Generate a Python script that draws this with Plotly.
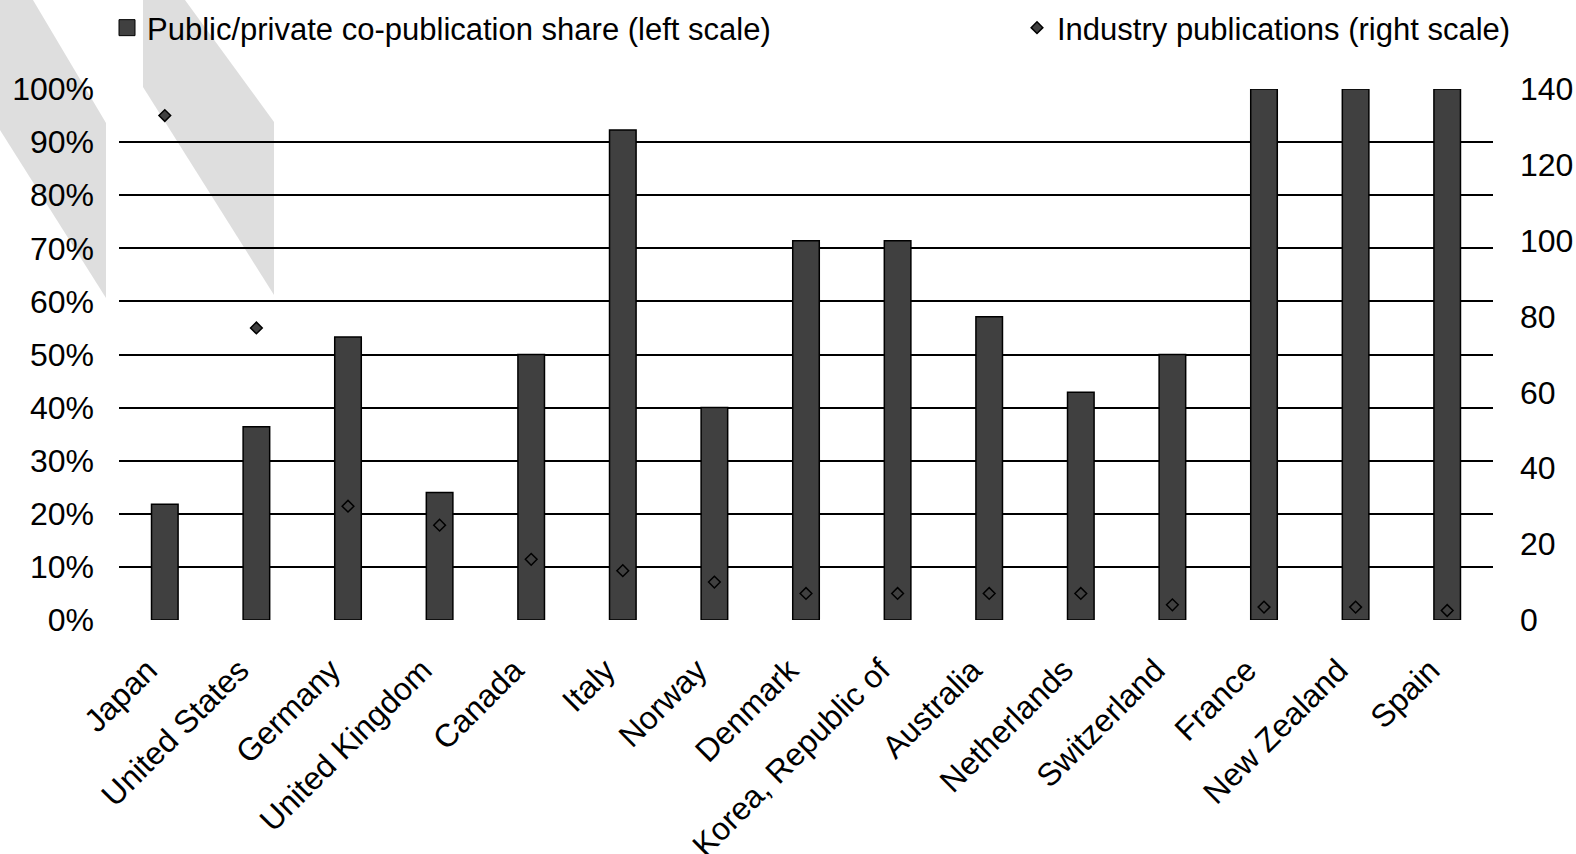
import plotly.graph_objects as go

countries = ["Japan", "United States", "Germany", "United Kingdom", "Canada", "Italy",
             "Norway", "Denmark", "Korea, Republic of", "Australia", "Netherlands",
             "Switzerland", "France", "New Zealand", "Spain"]
copub_share = [0.218, 0.364, 0.533, 0.24, 0.50, 0.923, 0.40, 0.714, 0.714, 0.571,
               0.429, 0.50, 1.0, 1.0, 1.0]
industry_pubs = [133, 77, 30, 25, 16, 13, 10, 7, 7, 7, 7, 4, 3.4, 3.4, 2.5]
left_ticks = [0, 0.1, 0.2, 0.3, 0.4, 0.5, 0.6, 0.7, 0.8, 0.9, 1.0]
left_labels = ["0%", "10%", "20%", "30%", "40%", "50%", "60%", "70%", "80%", "90%", "100%"]
right_ticks = [0, 20, 40, 60, 80, 100, 120, 140]

W, H = 1576, 854
L, R, T, B = 119, 1493, 89, 620
FONT = "Liberation Sans, Arial, sans-serif"
DARK = "#404040"


def px(x, y):
    return (x - L) / (R - L), (B - y) / (B - T)


def poly(points):
    pts = [px(x, y) for x, y in points]
    d = "M " + " L ".join(f"{a:.5f},{b:.5f}" for a, b in pts) + " Z"
    return dict(type="path", path=d, xref="paper", yref="paper",
                fillcolor="#dedede", line=dict(width=0), layer="below")


fig = go.Figure()
fig.add_trace(go.Bar(
    x=countries, y=copub_share, name="Public/private co-publication share (left scale)",
    marker=dict(color=DARK, line=dict(color="black", width=1.5)),
    width=0.29, showlegend=False, yaxis="y"))
fig.add_trace(go.Scatter(
    x=[None], y=[None], mode="markers", name="Public/private co-publication share (left scale)",
    marker=dict(symbol="square", size=17, color=DARK, line=dict(color="black", width=1)),
    legend="legend", yaxis="y"))
fig.add_trace(go.Scatter(
    x=countries, y=industry_pubs, mode="markers", name="Industry publications (right scale)",
    marker=dict(symbol="diamond", size=9, color=DARK, line=dict(color="black", width=1.5)),
    yaxis="y2", legend="legend2"))

lx1, ly = px(107, 28)
lx2, _ = px(1017, 28)

fig.update_layout(
    width=W, height=H,
    margin=dict(l=L, r=W - R, t=T, b=H - B, autoexpand=False),
    paper_bgcolor="white", plot_bgcolor="rgba(0,0,0,0)",
    font=dict(family=FONT, size=31, color="black"),
    xaxis=dict(type="category", tickangle=-45, showgrid=False, showline=False,
               ticks="", tickfont=dict(size=32), ticklabelstandoff=24,
               ticklabelshift=-17,
               range=[-0.5, len(countries) - 0.5]),
    yaxis=dict(range=[0, 1], tickvals=left_ticks, ticktext=left_labels,
               showgrid=True, gridcolor="black", gridwidth=1.6, zeroline=False,
               showline=False, ticks="", ticklabelstandoff=24, tickfont=dict(size=32)),
    yaxis2=dict(range=[0, 140], tickvals=right_ticks, overlaying="y", side="right",
                showgrid=False, zeroline=False, showline=False, ticks="",
                ticklabelstandoff=26, tickfont=dict(size=32)),
    legend=dict(x=lx1, y=ly, xanchor="left", yanchor="middle", orientation="h",
                font=dict(size=31), bgcolor="rgba(0,0,0,0)"),
    legend2=dict(x=lx2, y=ly, xanchor="left", yanchor="middle", orientation="h",
                 font=dict(size=31), bgcolor="rgba(0,0,0,0)"),
    shapes=[
        poly([(0, 0), (33, 0), (106, 123), (106, 298), (0, 130)]),
        poly([(143, 0), (185, 0), (274, 122), (274, 295), (143, 87)]),
    ],
)

fig.write_html("out.html", config={"displayModeBar": False},
               post_script="document.body.style.margin='0';document.body.style.overflow='hidden';")
